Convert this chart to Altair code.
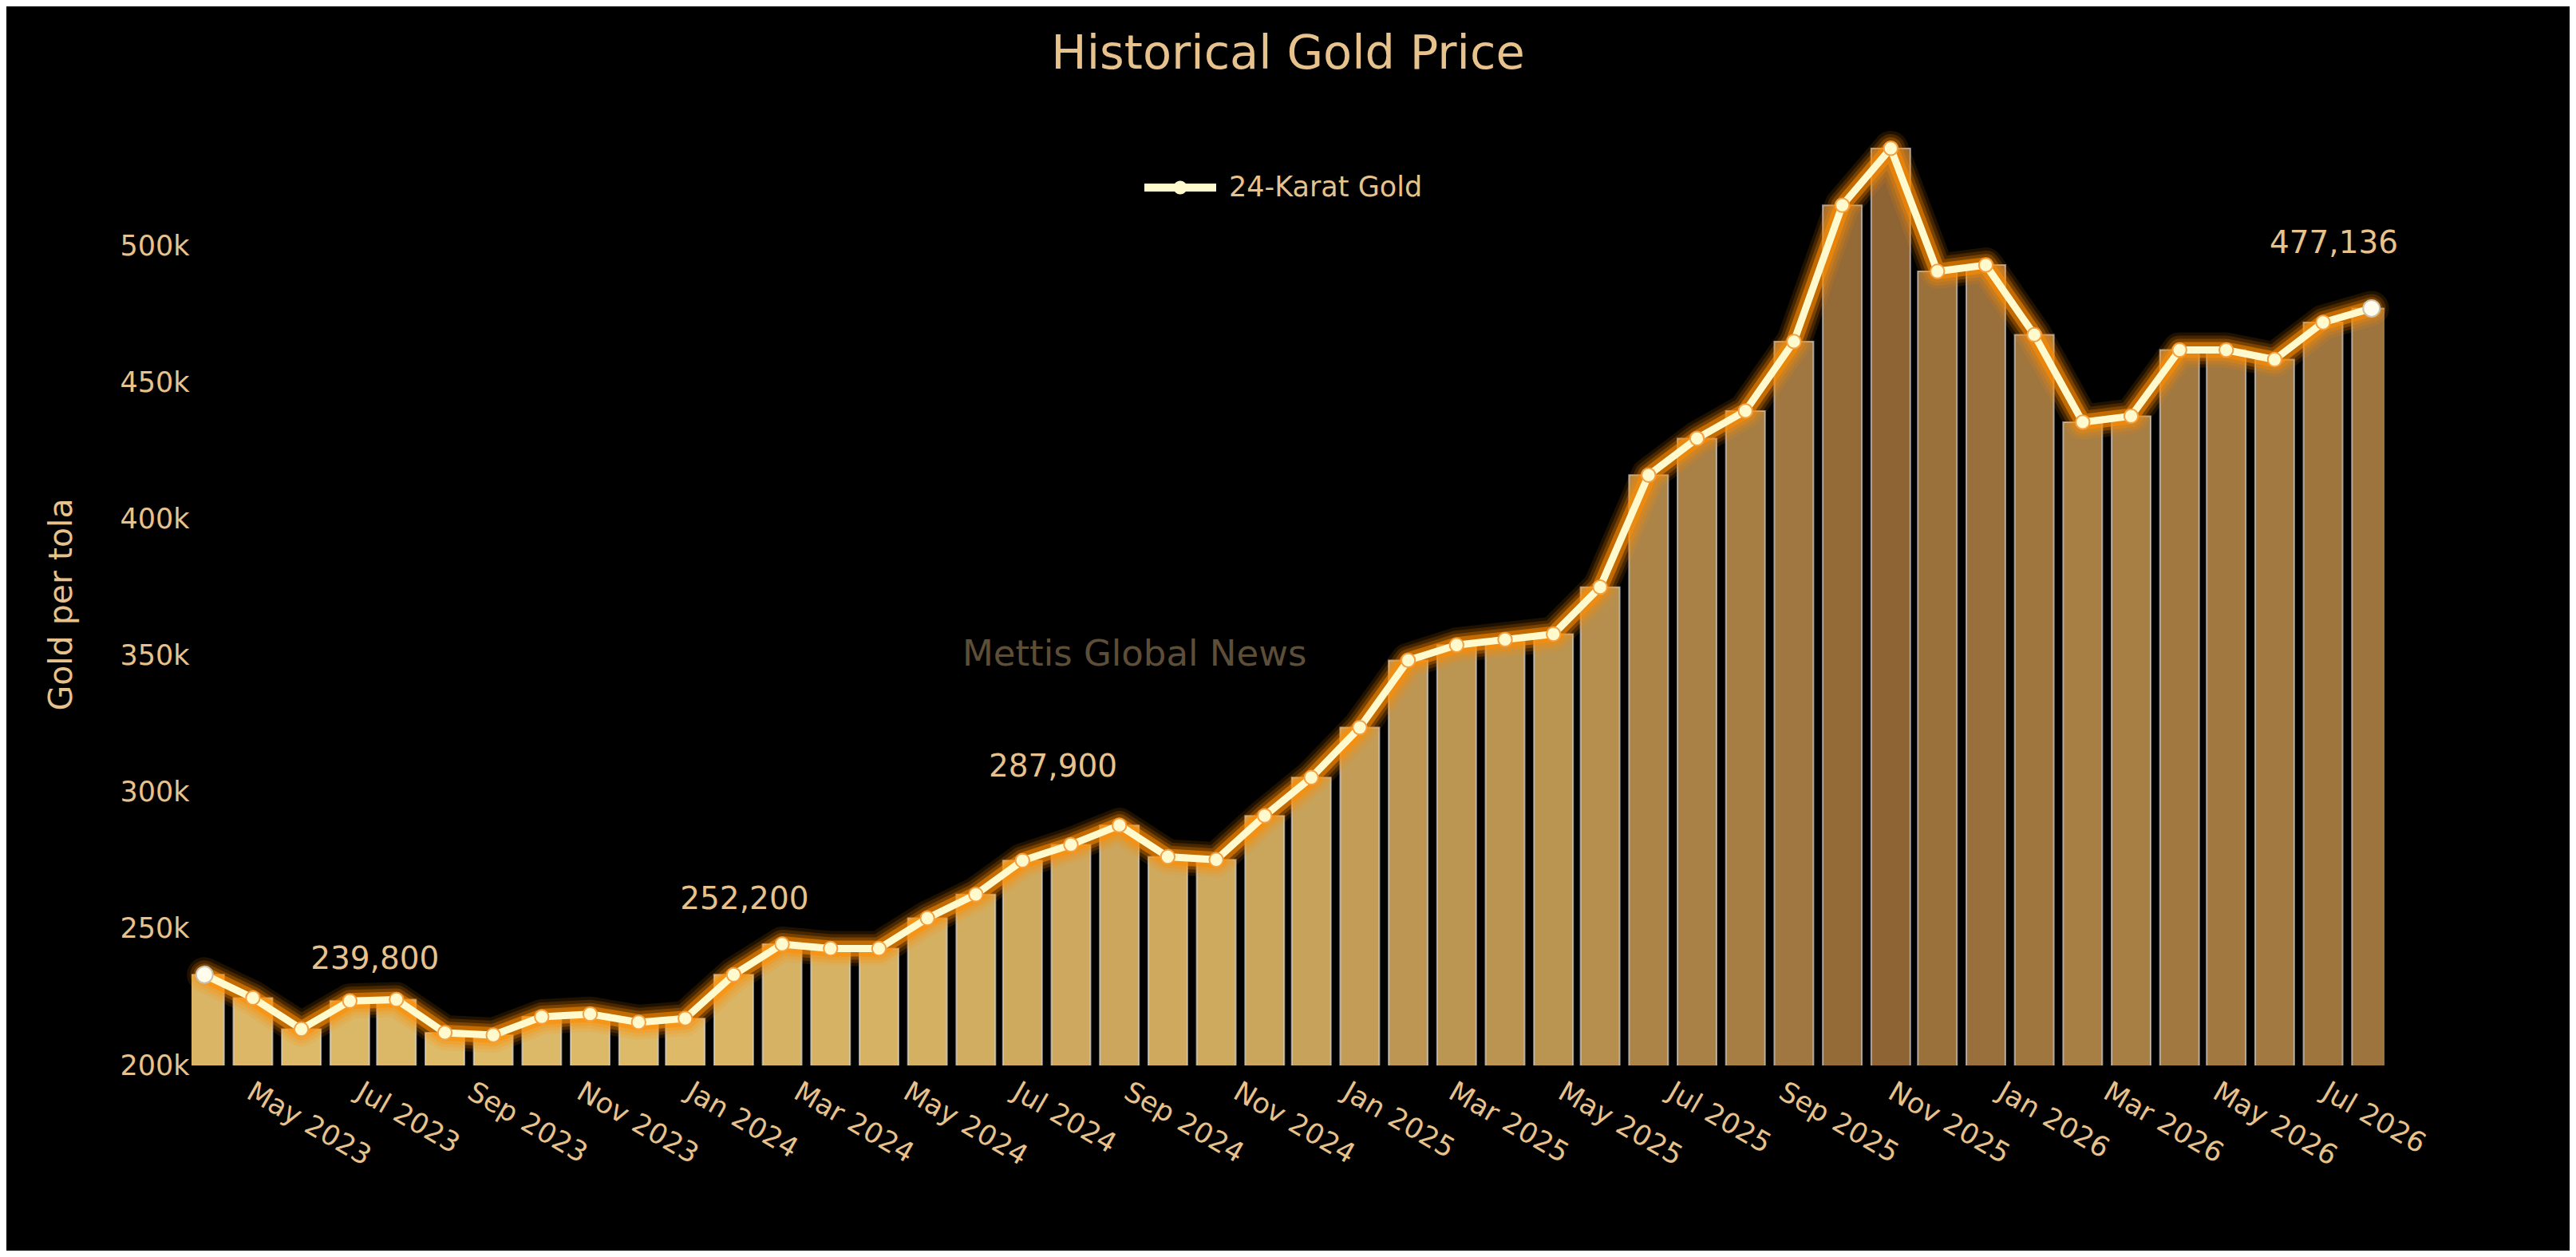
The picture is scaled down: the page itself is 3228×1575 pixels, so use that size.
import altair as alt
import pandas as pd

# 24-karat gold, price per tola
dates = [
    "2023-04-06", "2023-05-03", "2023-05-30", "2023-06-26", "2023-07-22", "2023-08-18",
    "2023-09-14", "2023-10-11", "2023-11-07", "2023-12-04", "2023-12-30", "2024-01-26",
    "2024-02-22", "2024-03-20", "2024-04-16", "2024-05-13", "2024-06-09", "2024-07-05",
    "2024-08-01", "2024-08-28", "2024-09-24", "2024-10-21", "2024-11-17", "2024-12-13",
    "2025-01-09", "2025-02-05", "2025-03-04", "2025-03-31", "2025-04-27", "2025-05-23",
    "2025-06-19", "2025-07-16", "2025-08-12", "2025-09-08", "2025-10-05", "2025-11-01",
    "2025-11-27", "2025-12-24", "2026-01-20", "2026-02-16", "2026-03-15", "2026-04-11",
    "2026-05-07", "2026-06-03", "2026-06-30", "2026-07-27",
]
prices = [
    233200, 224700, 213300, 223600, 224100, 212000,
    211100, 217800, 218800, 215800, 217200, 233200,
    244400, 242800, 242800, 253900, 262600, 275000,
    280800, 287900, 276400, 275300, 291400, 305400,
    323700, 348300, 353900, 355900, 357900, 375100,
    416100, 429500, 439600, 465000, 514900, 535700,
    490700, 493000, 467500, 435500, 437700, 461900,
    461900, 458400, 472000, 477136,
]
series_name = "24-Karat Gold"

note_texts = ["239,800", "252,200", "287,900", "477,136"]
note_dates = ["2023-07-10", "2024-02-01", "2024-07-22", "2026-07-06"]
note_levels = [239000, 260800, 309300, 500800]

y_ticks = [200000, 250000, 300000, 350000, 400000, 450000, 500000]

GOLD = "#E8C28C"
CREAM = "#FFFACD"
GLOW = "#FF8C00"
FONT = "DejaVu Sans"
W, H = 2748, 1198

df = pd.DataFrame({"date": dates, "price": prices})
df["series"] = series_name
df["end"] = [i in (0, len(df) - 1) for i in range(len(df))]
notes = pd.DataFrame({"date": note_dates, "price": note_levels, "label": note_texts})

x_scale = alt.Scale(type="utc", domain=[alt.DateTime(year=2023, month=4, date=1, utc=True),
                                        alt.DateTime(year=2026, month=8, date=1, utc=True)])
y_scale = alt.Scale(domain=[200000, 550000], zero=False, nice=False)

# same x/y definitions in every layer so the axes merge cleanly
x_enc = alt.X("date:T", scale=x_scale, title=None,
              axis=alt.Axis(format="%b %Y", tickCount={"interval": "month", "step": 2},
                            labelAngle=30, labelAlign="left", labelBaseline="top",
                            labelPadding=15, labelOffset=8, labelOverlap=False))
y_enc = alt.Y("price:Q", scale=y_scale, title="Gold per tola",
              axis=alt.Axis(values=y_ticks, format="~s", labelPadding=3,
                            titleX=-163, titleY=620, titleAngle=-90, titleAlign="center",
                            titleBaseline="middle", titleFontSize=41))

bars = alt.Chart(df).mark_bar(size=49, clip=True, stroke="#E4E8F2", strokeWidth=2,
                              strokeOpacity=0.6).encode(
    x=x_enc, y=y_enc,
    color=alt.Color("price:Q", scale=alt.Scale(range=["#DEBB69", "#8F6434"], interpolate="rgb"),
                    legend=None),
)

# stacked orange strokes give the glow round the line
glows = [
    alt.Chart(df).mark_line(color=GLOW, strokeWidth=w, opacity=o, strokeJoin="round",
                            strokeCap="round").encode(x=x_enc, y=y_enc)
    for w, o in [(44, 0.12), (36, 0.18), (28, 0.28), (20, 0.55)]
]

line = alt.Chart(df).mark_line(color=CREAM, strokeWidth=9, strokeJoin="round",
                               strokeCap="round").encode(x=x_enc, y=y_enc)

legend_symbol = ("M-1,-0.11L1,-0.11L1,0.11L-1,0.11Z "
                 "M0.19,0A0.19,0.19,0,1,1,-0.19,0A0.19,0.19,0,1,1,0.19,0Z")

markers = alt.Chart(df).mark_circle(size=300, opacity=1, stroke="#F5A040", strokeWidth=2).encode(
    x=x_enc, y=y_enc,
    color=alt.Color("series:N", scale=alt.Scale(domain=[series_name], range=[CREAM]),
                    legend=alt.Legend(title=None, orient="none", legendX=1194, legendY=53,
                                      direction="horizontal", padding=0,
                                      symbolType=legend_symbol, symbolSize=8100,
                                      symbolFillColor=CREAM, symbolStrokeWidth=0,
                                      symbolOpacity=1, labelFont=FONT, labelFontSize=35,
                                      labelColor=GOLD, labelOffset=16, labelLimit=0)),
)

ends = alt.Chart(df).transform_filter("datum.end").mark_circle(
    size=440, opacity=1, fill="#FFFCEB", stroke="#C8C0B0", strokeWidth=2
).encode(x=x_enc, y=y_enc)

note_layer = alt.Chart(notes).mark_text(font=FONT, fontSize=39, color=GOLD,
                                        baseline="middle", align="center").encode(
    x=x_enc, y=y_enc, text="label:N",
)

watermark = alt.Chart(pd.DataFrame({"t": ["Mettis Global News"]})).mark_text(
    font=FONT, fontSize=45, color=GOLD, opacity=0.4, baseline="middle", align="center"
).encode(x=alt.value(W * 0.43), y=alt.value(H * 0.57), text="t:N")

chart = alt.layer(bars, *glows, line, markers, ends, note_layer, watermark).resolve_scale(
    color="independent"
).properties(
    width=W, height=H,
    title=alt.TitleParams("Historical Gold Price", font=FONT, fontSize=59, fontWeight="normal",
                          color=GOLD, anchor="middle", frame="group", baseline="alphabetic",
                          offset=-8),
    autosize=alt.AutoSizeParams(type="none"),
    padding={"left": 232, "top": 129, "right": 232, "bottom": 232},
).configure(background="black").configure_view(stroke=None).configure_axis(
    labelFont=FONT, labelFontSize=35, labelColor=GOLD, titleFont=FONT, titleColor=GOLD,
    titleFontWeight="normal", grid=False, domain=False, ticks=False,
)

chart.save("out.html", embed_options={"renderer": "svg", "actions": False})
